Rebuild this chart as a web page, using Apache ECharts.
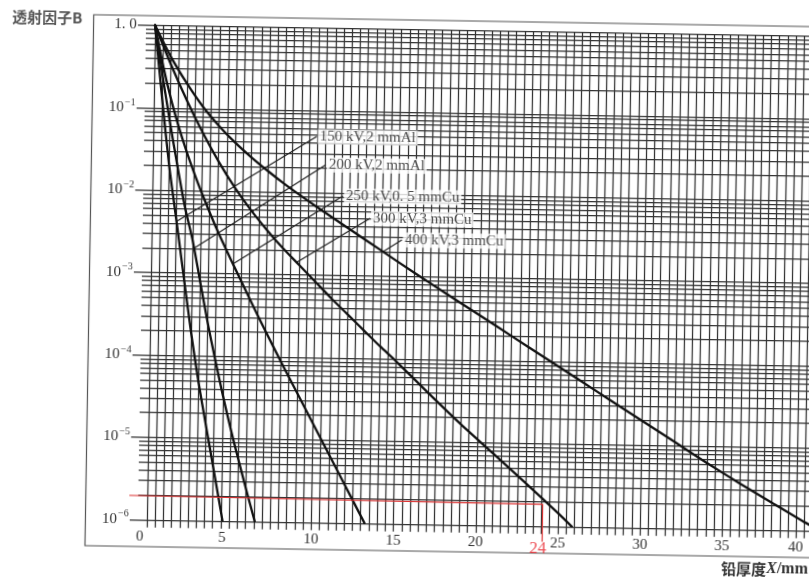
<!DOCTYPE html>
<html><head><meta charset="utf-8">
<script src="https://cdn.jsdelivr.net/npm/echarts@6/dist/echarts.min.js"></script>
<style>
html,body{margin:0;padding:0;background:#fff;overflow:hidden;width:809px;height:579px;}
#chart{position:absolute;left:0;top:0;width:840px;height:579px;transform:rotate(0.95deg);transform-origin:470px 275px;}
</style></head><body><div id="chart"></div>
<script>
// Lead thickness X (mm) vs log10 of transmission factor B
const kv150 = [[0,0],[0.5,-0.88],[1.0,-1.7],[1.5,-2.37],[2.0,-3.05],[2.5,-3.72],[3.0,-4.32],[3.5,-4.85],[4.0,-5.37],[4.6,-6.0]];
const kv200 = [[0,0],[0.5,-0.6],[1,-1.17],[1.5,-1.7],[2,-2.2],[2.5,-2.6],[3,-3.1],[3.5,-3.6],[4,-4.05],[4.5,-4.48],[5,-4.88],[5.5,-5.25],[6,-5.61],[6.56,-6.0]];
const kv250 = [[0,0],[0.5,-0.46],[1,-0.86],[1.5,-1.2],[2,-1.5],[2.5,-1.77],[3,-2.02],[4,-2.48],[5,-2.89],[6,-3.29],[7,-3.68],[8,-4.06],[9,-4.43],[10,-4.8],[11,-5.17],[12,-5.54],[13.24,-6.0]];
const kv300 = [[0,0],[1,-0.47],[2,-0.9],[3,-1.29],[4,-1.64],[5,-1.95],[6,-2.22],[7,-2.46],[8,-2.68],[9,-2.88],[10,-3.08],[11,-3.28],[12,-3.47],[13,-3.66],[14,-3.85],[15,-4.03],[17,-4.41],[19,-4.78],[21,-5.13],[23,-5.48],[25,-5.84],[25.85,-6.0]];
const kv400 = [[0,0],[1,-0.38],[2,-0.7],[3,-0.98],[4,-1.21],[5,-1.41],[6,-1.585],[7,-1.745],[8,-1.895],[9,-2.035],[10,-2.17],[12,-2.43],[14,-2.69],[16,-2.95],[18,-3.2],[20,-3.45],[22,-3.7],[24,-3.95],[26,-4.2],[28,-4.45],[30,-4.7],[32,-4.95],[34,-5.2],[36,-5.44],[38,-5.67],[40,-5.9],[41,-6.0]];

const curveNames = ['150 kV,2 mmAl','200 kV,2 mmAl','250 kV,0. 5 mmCu','300 kV,3 mmCu','400 kV,3 mmCu'];
const leaderTop = [[9.95,-1.318],[10.52,-1.659],[11.6,-2.033],[13.27,-2.30],[15.23,-2.556]];
const leaderEnd = [[1.51,-2.376],[2.58,-2.70],[4.99,-2.88],[8.85,-2.85],[14.11,-2.70]];

const xTickValues = [0,5,10,15,20,25,30,35,40];
const xTickLabels = ['0','5','10','15','20','25','30','35','40'];
const yDecades = [0,-1,-2,-3,-4,-5,-6];
const yTickLabels = ['1. 0','10{s|−1}','10{s|−2}','10{s|−3}','10{s|−4}','10{s|−5}','10{s|−6}'];
const minorMultipliers = [2,3,4,5,6,7,8,9];
const gridStep = 0.5;

const redMarkH = [[-1.8,-5.71],[24.06,-5.735]];
const redMarkV = [[24.06,-5.735],[24.06,-6.19]];
const redMarkText = [[23.8,-6.28,'24']];

const X_MIN = -1.05, X_MAX = 41.9, Y_MIN = -6.1, Y_MAX = 0;
const MINOR_START = -0.55, DECADE_START = -1.04, V_BOTTOM = -6.095, H_END = 41.85;

const gridLines = [];
for (let i = 0; i * gridStep <= 41.5; i++) {
  const v = i * gridStep;
  gridLines.push([{coord:[v, V_BOTTOM]},{coord:[v, Y_MAX]}]);
}
yDecades.forEach(d => gridLines.push([{coord:[DECADE_START, d]},{coord:[H_END, d]}]));
for (let n = 1; n <= 6; n++) {
  minorMultipliers.forEach(k => {
    const L = -n + Math.log10(k);
    gridLines.push([{coord:[MINOR_START, L]},{coord:[H_END, L]}]);
  });
}
const leaderLines = leaderTop.map((p, i) => [{coord:p},{coord:leaderEnd[i]}]);

const serif = 'Liberation Serif';
const curveSeries = [kv150, kv200, kv250, kv300, kv400].map((d, i) => ({
  name: curveNames[i], type: 'line', data: d, showSymbol: false, smooth: 0.25,
  lineStyle: {color: '#111', width: 2.3, cap: 'round', join: 'round'}, z: 5, emphasis: {disabled: true}
}));

const chart = echarts.init(document.getElementById('chart'));
chart.setOption({
  animation: false,
  backgroundColor: '#fff',
  title: [
    {text: '透射因子B', left: 8, top: 17, padding: 0,
     textStyle: {fontFamily: 'Noto Sans CJK SC', fontSize: 15, fontWeight: 'bold', color: '#555'}},
    {text: '{a|铅厚度}{i|X}{b|/mm}', left: 726, top: 556, padding: 0,
     textStyle: {rich: {
       a: {fontFamily: 'Noto Sans CJK SC', fontSize: 15, fontWeight: 'bold', color: '#333'},
       i: {fontFamily: serif, fontSize: 16, fontStyle: 'italic', color: '#333'},
       b: {fontFamily: serif, fontSize: 16, color: '#333'}}}}
  ],
  graphic: [{type: 'rect', silent: true, z: -10,
    shape: {x: 89.5, y: 21, width: 800, height: 531},
    style: {fill: 'none', stroke: '#555', lineWidth: 1.2}}],
  grid: {left: 133.7, top: 30.5, width: 706.1, height: 502.6},
  xAxis: {
    type: 'value', min: X_MIN, max: X_MAX,
    axisLine: {show: false}, splitLine: {show: false},
    axisTick: {show: true, customValues: [0,5,40], length: 5, lineStyle: {color: '#333', width: 1.2}},
    axisLabel: {
      customValues: xTickValues, margin: 1, fontFamily: serif, fontSize: 15, color: '#333',
      formatter: v => {
        const t = xTickLabels[xTickValues.indexOf(v)];
        if (v === 0 || v === 5) return '{l|' + t + '}';
        if (v === 40) return '{r|' + t + '}';
        return t;
      },
      rich: {
        l: {fontFamily: serif, fontSize: 15, color: '#333', padding: [0,14,0,0]},
        r: {fontFamily: serif, fontSize: 15, color: '#333', padding: [0,17,0,0]}
      }
    }
  },
  yAxis: {
    type: 'value', min: Y_MIN, max: Y_MAX,
    axisLine: {show: false}, axisTick: {show: false}, splitLine: {show: false},
    axisLabel: {
      customValues: yDecades, margin: 1, fontFamily: serif, fontSize: 15, color: '#333', lineHeight: 20,
      formatter: v => yTickLabels[yDecades.indexOf(v)],
      rich: {s: {fontFamily: serif, fontSize: 10, color: '#333', verticalAlign: 'top', lineHeight: 10, padding: [0,0,0,1]}}
    }
  },
  series: [
    {type: 'line', data: [], silent: true,
     markLine: {silent: true, animation: false, symbol: ['none','none'], label: {show: false},
       lineStyle: {color: '#333', width: 1.25, type: 'solid'}, emphasis: {disabled: true}, data: gridLines}},
    ...curveSeries,
    {type: 'line', data: [], silent: true,
     markLine: {silent: true, animation: false, symbol: ['none','none'], label: {show: false},
       lineStyle: {color: '#222', width: 1.2, type: 'solid'}, emphasis: {disabled: true}, data: leaderLines}, z: 6},
    {type: 'scatter', symbolSize: 0, silent: true, z: 10,
     data: leaderTop.map((p, i) => ({value: p, name: curveNames[i]})),
     label: {show: true, position: 'right', distance: 1, formatter: '{b}', fontFamily: serif, fontSize: 15,
       color: '#222', backgroundColor: '#fff', padding: [0, 2]}},
    {type: 'line', data: redMarkH, clip: false, showSymbol: false, silent: true, z: 7,
     lineStyle: {color: '#dd3333', width: 1.2}},
    {type: 'line', data: redMarkV, clip: false, showSymbol: false, silent: true, z: 7,
     lineStyle: {color: '#dd3333', width: 1.2}},
    {type: 'scatter', symbolSize: 0, clip: false, silent: true, z: 10,
     data: redMarkText.map(p => ({value: [p[0], p[1]], name: p[2]})),
     label: {show: true, position: 'inside', formatter: '{b}', fontFamily: serif, fontSize: 17, color: '#e8222a'}}
  ]
});
</script></body></html>
